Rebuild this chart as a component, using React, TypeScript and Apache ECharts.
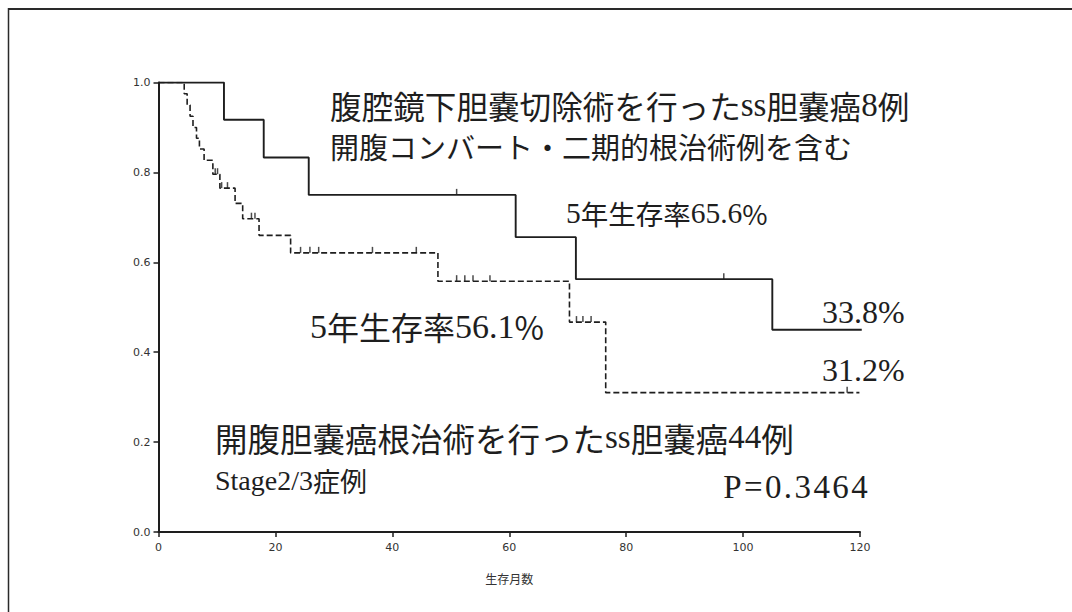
import React, { useEffect, useRef } from "react";
import * as echarts from "echarts";

// Kaplan-Meier steps: [month, survival]
const lapSteps: [number, number][] = [
  [0, 1.0], [11.2, 0.917], [18.0, 0.833], [25.7, 0.75], [61.1, 0.656],
  [71.4, 0.5625], [105.0, 0.45], [120.3, 0.45],
];
const lapCensor: [number, number][] = [[51.0, 0.75], [96.7, 0.5625]];

const openSteps: [number, number][] = [
  [0, 1.0], [4.4, 0.975], [4.9, 0.95], [5.4, 0.925], [5.9, 0.9], [6.5, 0.876],
  [7.0, 0.852], [7.8, 0.827], [9.3, 0.796], [10.5, 0.765], [13.1, 0.731],
  [14.4, 0.697], [17.2, 0.66], [22.6, 0.621], [47.8, 0.558], [70.3, 0.467],
  [76.5, 0.31], [119.9, 0.31],
];
const openCensor: [number, number][] = [
  [9.7, 0.796], [10.1, 0.796], [10.8, 0.765], [11.8, 0.765], [15.9, 0.697], [16.5, 0.697],
  [24.3, 0.621], [25.9, 0.621], [27.4, 0.621], [36.6, 0.621], [44.1, 0.621],
  [51.0, 0.558], [52.4, 0.558], [53.8, 0.558], [56.7, 0.558],
  [71.5, 0.467], [72.6, 0.467], [74.0, 0.467], [117.8, 0.31],
];

const xTicks = [0, 20, 40, 60, 80, 100, 120];
const yTicks = ["0.0", "0.2", "0.4", "0.6", "0.8", "1.0"];
const xName = "生存月数";

const G = "'Noto Sans CJK JP', sans-serif";
const S = "'Liberation Serif', 'Times New Roman', serif";
const INK = "#1e1e1e";

const rich = (g: number, s: number) => ({
  g: { fontFamily: G, fontSize: g, lineHeight: g, fill: INK, fontWeight: 400 },
  s: { fontFamily: S, fontSize: s, lineHeight: s, fill: INK },
  p: { fontFamily: S, fontSize: s, lineHeight: s, fill: INK, padding: [0, 1.2, 0, 1.2] },
});

const label = (text: string, x: number, y: number, g: number, s: number) => ({
  type: "text",
  x,
  y,
  style: { text, rich: rich(g, s), verticalAlign: "middle", align: "left" },
});

const spaced = (str: string) => str.split("").map((c) => `{p|${c}}`).join("");

export default function App() {
  const ref = useRef<HTMLDivElement>(null);
  useEffect(() => {
    const chart = echarts.init(ref.current!, null, { renderer: "svg" });
    chart.setOption({
      animation: false,
      backgroundColor: "#ffffff",
      grid: { left: 158.5, right: 212, top: 82.5, bottom: 80 },
      xAxis: {
        type: "value",
        min: 0,
        max: 120,
        interval: 20,
        name: xName,
        nameLocation: "middle",
        nameGap: 40,
        nameTextStyle: { fontFamily: G, fontSize: 12, color: "#333" },
        axisLine: { lineStyle: { color: INK, width: 2 } },
        axisTick: { length: 5, lineStyle: { color: INK, width: 1.5 } },
        axisLabel: {
          fontFamily: "'DejaVu Sans', sans-serif",
          fontSize: 11,
          color: "#333",
          margin: 10,
          formatter: (v: number) => (xTicks.includes(v) ? String(v) : ""),
        },
        splitLine: { show: false },
      },
      yAxis: {
        type: "value",
        min: 0,
        max: 1,
        interval: 0.2,
        axisLine: { show: true, lineStyle: { color: INK, width: 2 } },
        axisTick: { show: true, length: 5, lineStyle: { color: INK, width: 1.5 } },
        axisLabel: {
          fontFamily: "'DejaVu Sans', sans-serif",
          fontSize: 11,
          color: "#333",
          margin: 8,
          formatter: (v: number) => yTicks[Math.round(v * 5)] ?? "",
        },
        splitLine: { show: false },
      },
      series: [
        {
          type: "line",
          step: "end",
          data: lapSteps,
          symbol: "none",
          lineStyle: { color: INK, width: 1.9, type: "solid" },
        },
        {
          type: "line",
          step: "end",
          data: openSteps,
          symbol: "none",
          lineStyle: { color: INK, width: 1.6, type: [6, 3] },
        },
        {
          type: "scatter",
          data: lapCensor.concat(openCensor),
          symbol: "rect",
          symbolSize: [1.5, 6],
          symbolOffset: [0, -3],
          itemStyle: { color: INK },
        },
      ],
      graphic: [
        { type: "line", shape: { x1: 8, y1: 9, x2: 1072, y2: 9 }, style: { stroke: "#2a2a2a", lineWidth: 2 } },
        { type: "line", shape: { x1: 8.5, y1: 8, x2: 8.5, y2: 612 }, style: { stroke: "#2a2a2a", lineWidth: 1.5 } },
        label("{g|腹腔鏡下胆嚢切除術を行った}{s|ss}{g|胆嚢癌}{s|8}{g|例}", 330, 105, 31.6, 33),
        label("{g|開腹コンバート・二期的根治術例を含む}", 330, 146, 29, 30),
        label("{s|5}{g|年生存率}{s|65.6}{g|%}", 566, 213, 27.5, 29.5),
        label("{s|5}{g|年生存率}{s|56.1}{g|%}", 310, 326, 32, 34),
        label("{s|33.8%}", 822, 312, 31, 32),
        label("{s|31.2%}", 822, 370, 31, 32),
        label("{g|開腹胆嚢癌根治術を行った}{s|ss}{g|胆嚢癌}{s|44}{g|例}", 215, 437, 32.5, 33),
        label("{s|Stage2/3}{g|症例}", 215, 480, 27, 28),
        label(spaced("P=0.3464"), 722, 487, 31, 33),
      ],
    });
    return () => chart.dispose();
  }, []);
  return (
    <div
      ref={ref}
      style={{ position: "fixed", left: 0, top: 0, width: 1072, height: 612 }}
    />
  );
}
